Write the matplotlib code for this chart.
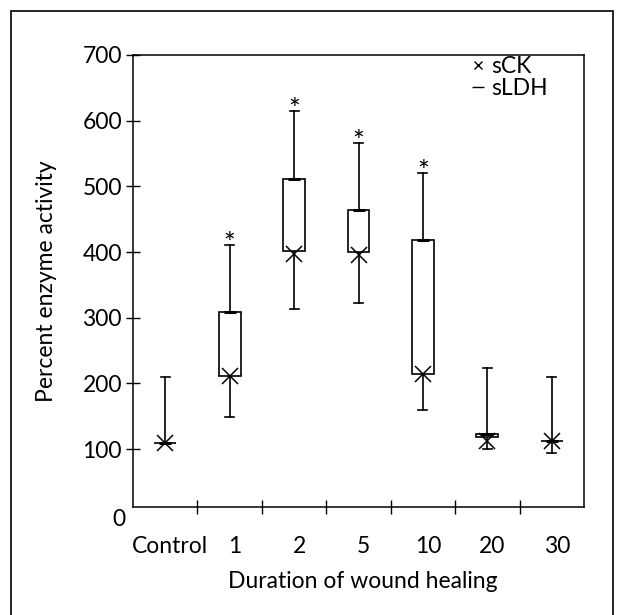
import matplotlib
matplotlib.use('Agg')
import matplotlib.pyplot as plt
from matplotlib.patches import Rectangle
from matplotlib.lines import Line2D

plt.rcParams['font.family'] = ['Lato', 'DejaVu Sans']
plt.rcParams['font.size'] = 16.5

# values
groups = ['Control', '1', '2', '5', '10', '20', '30']
whisk_hi = [210, 411, 614, 566, 520, 224, 210]
box_hi = [110, 309, 511, 464, 419, 123, 112]
box_lo = [110, 212, 402, 400, 215, 118, 112]
sck = [110, 212, 397, 396, 215, 112, 112]
whisk_lo = [110, 149, 314, 322, 160, 100, 94]
signif = [False, True, True, True, True, False, False]

BOX_W = 0.34
CAP_W = 0.14
FS = 16.5

fig = plt.figure(figsize=(6.2, 6.15), dpi=100)
ax = fig.add_axes([0.2145, 0.1756, 0.7275, 0.735])

for i in range(len(groups)):
    # whisker
    ax.plot([i, i], [whisk_lo[i], whisk_hi[i]], color='black', lw=1.2, zorder=1)
    ax.plot([i - CAP_W / 2, i + CAP_W / 2], [whisk_hi[i], whisk_hi[i]],
            color='black', lw=1.2, zorder=1)
    if whisk_lo[i] < min(box_lo[i], sck[i]):
        ax.plot([i - CAP_W / 2, i + CAP_W / 2], [whisk_lo[i], whisk_lo[i]],
                color='black', lw=1.2, zorder=1)
    # box
    ax.add_patch(Rectangle((i - BOX_W / 2, box_lo[i]), BOX_W, box_hi[i] - box_lo[i],
                           facecolor='white', edgecolor='black', lw=1.2, zorder=2))
    # sLDH dash and sCK cross
    ax.plot(i, box_hi[i], marker='_', ms=9, mew=2.2, color='black', zorder=3)
    ax.plot(i, sck[i], marker='x', ms=12, mew=1.1, color='black', zorder=3)
    if signif[i]:
        ax.text(i, whisk_hi[i] - 12, '*', ha='center', va='baseline', fontsize=20)

ax.set_xlim(-0.5, len(groups) - 0.5)
ax.set_ylim(12, 700)

ax.set_yticks([100, 200, 300, 400, 500, 600, 700])
ax.tick_params(axis='y', direction='inout', length=10, width=1, pad=3, labelsize=FS)
ax.text(-0.62, -7, '0', ha='right', va='center', fontsize=FS)

ax.set_xticks([i + 0.5 for i in range(len(groups) - 1)])
ax.set_xticklabels([])
ax.tick_params(axis='x', direction='inout', length=10, width=1)
for i, g in enumerate(groups):
    ax.text(i + 0.08, -32, g, ha='center', va='top', fontsize=FS)

for s in ax.spines.values():
    s.set_linewidth(1.1)

ax.set_ylabel('Percent enzyme activity', fontsize=FS)
ax.yaxis.set_label_coords(-0.168, 0.5)
fig.text(0.585, 0.055, 'Duration of wound healing', ha='center', va='center', fontsize=FS)

handles = [Line2D([], [], ls='none', marker='x', ms=6, mew=1, color='black'),
           Line2D([], [], ls='none', marker='_', ms=8, mew=1, color='black')]
ax.legend(handles, ['sCK', 'sLDH'], loc='upper right', bbox_to_anchor=(0.92, 0.998),
          frameon=False, handlelength=0.8, handletextpad=0.2, labelspacing=0.05,
          borderaxespad=0, borderpad=0, fontsize=FS)

# outer frame
fig.patches.append(Rectangle((0.018, -0.02), 0.97, 1.002, transform=fig.transFigure,
                             fill=False, edgecolor='black', lw=1.2))

fig.savefig('out.png', dpi=100)
